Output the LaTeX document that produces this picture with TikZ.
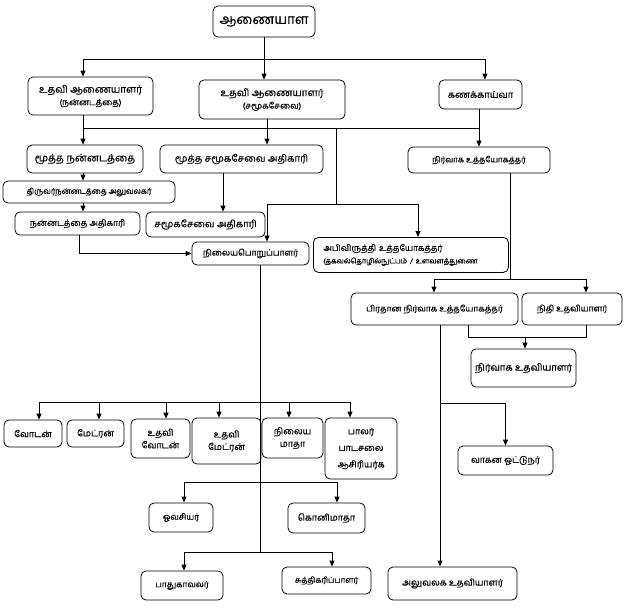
\documentclass[tikz,border=0pt]{standalone}
\usepackage{fontspec}
\setmainfont[Script=Tamil, FakeBold=0.4]{Hind Madurai}
\usetikzlibrary{arrows.meta}
\tikzset{
 bx/.style={draw=black, line width=0.8pt, rounded corners=5pt, fill=white, inner sep=0pt, align=center, font=\fontsize{9}{12.5}\selectfont},
 ln/.style={line width=0.8pt, draw=black},
 arr/.style={ln, -{Triangle[length=6pt,width=5pt]}},
 fs/.style={font=\fontsize{#1}{12.5}\selectfont},
}
\newcommand\bx[7][]{\node[bx, #1, minimum width={(#5-#3)*1pt}, minimum height={(#6-#4)*1pt}] (#2) at ({(#3+#5)/2},{(#4+#6)/2}) {#7};}
\newcommand\sm[1]{{\fontsize{8.5}{10}\selectfont #1}}
\begin{document}
\begin{tikzpicture}[x=1pt,y=-1pt]
\useasboundingbox (0,0) rectangle (625,608);
% boxes
\bx[fs=13.5]{top}{213}{6}{315}{37}{ஆணையாள}
\bx[fs=10]{ua1}{28}{77}{153}{115}{உதவி ஆணையாளர்\\\sm{(நன்னடத்தை)}}
\bx[fs=10]{ua2}{199}{80}{345}{119}{உதவி ஆணையாளர்\\\sm{(சமூகசேவை)}}
\bx[fs=9.3]{acc}{439}{80}{522}{109}{கணக்காய்வா}
\bx[fs=10.3]{mn}{27}{145}{143}{173}{மூத்த நன்னடத்தை}
\bx[fs=9.7]{ms}{160}{145}{323}{173}{மூத்த சமூகசேவை அதிகாரி}
\bx[fs=8]{na}{408}{147}{550}{173}{நிர்வாக உத்தயோகத்தர்}
\bx[fs=7.7]{tn}{3}{181}{175}{203}{திருவர்நன்னடத்தை அலுவலகர்}
\bx[fs=8.6]{nno}{15}{212}{140}{235}{நன்னடத்தை அதிகாரி}
\bx[fs=9.6]{sso}{146}{212}{265}{237}{சமூகசேவை அதிகாரி}
\bx[fs=8.5]{nil}{192}{242}{309}{265}{நிலையபொறுப்பாளர்}
\node[bx, fs=8.5, anchor=north west, minimum height=35pt, text width=175pt, inner xsep=10pt, align=left] (dev) at (313,237) {அபிவிருத்தி உத்தயோகத்தர்\\{\fontsize{7.2}{8.5}\selectfont (தகவல்தொழில்நுட்பம் / உளவளத்துணை}};
\bx[fs=8.5]{pna}{351}{293}{518}{325}{பிரதான நிர்வாக உத்தயோகத்தர்}
\bx[fs=8.5]{fin}{522}{293}{622}{325}{நிதி உதவியாளர்}
\bx[fs=9.5]{nau}{471}{349}{576}{387}{நிர்வாக உதவியாளர்}
\bx{wd}{4}{420}{62}{447}{வோடன்}
\bx{mt}{67}{420}{124}{447}{மேட்ரன்}
\bx{awd}{131}{419}{190}{458}{உதவி\\வோடன்}
\bx{amt}{192}{418}{261}{464}{உதவி\\மேட்ரன்}
\bx{nm}{262}{418}{323}{458}{நிலைய\\மாதா}
\bx{pp}{325}{418}{397}{479}{பாலர்\\[4pt]பாடசலை\\[4pt]ஆசிரியர்க}
\bx[fs=8.8]{drv}{458}{446}{553}{475}{வாகன ஓட்டுநர்}
\bx[fs=8.4]{ov}{149}{503}{213}{532}{ஓவசியர்}
\bx{km}{288}{503}{365}{533}{கொனிமாதா}
\bx[fs=8.4]{pk}{141}{571}{223}{600}{பாதுகாவலர்}
\bx[fs=8]{sut}{282}{567}{371}{594}{சுத்திகரிப்பாளர்}
\bx{alu}{388}{567}{517}{600}{அலுவலக உதவியாளர்}
% junction coordinates
\coordinate (h1L) at (83,59);
\coordinate (h1R) at (485,59);
\coordinate (h2L) at (83,128);
\coordinate (h2M) at (267,128);
\coordinate (h2D) at (336,128);
\coordinate (h2R) at (479,128);
\coordinate (h3L) at (267,204);
\coordinate (h3D) at (336,204);
\coordinate (h3R) at (418,204);
\coordinate (v1) at (223,0);
\coordinate (v2) at (79,0);
\coordinate (h4C) at (510,279);
\coordinate (h4L) at (434,279);
\coordinate (h4R) at (586,279);
\coordinate (h5L) at (468,337);
\coordinate (h5M) at (525,337);
\coordinate (h5R) at (586,337);
\coordinate (v3) at (440,0);
\coordinate (j6) at (440,403);
\coordinate (v4) at (260,552);
\coordinate (b1L) at (39,402);
\coordinate (b1R) at (350,402);
\coordinate (b2L) at (184,482);
\coordinate (b2R) at (337,482);
\coordinate (b3L) at (184,552);
\coordinate (b3R) at (332,552);
% connectors
\draw[arr] (top.south) -- (top.south |- ua2.north);
\draw[ln] (h1L) -- (h1R);
\draw[arr] (h1L) -- (h1L |- ua1.north);
\draw[arr] (h1R) -- (h1R |- acc.north);
\draw[ln] (h2L) -- (h2R);
\draw[arr] (h2L |- ua1.south) -- (h2L |- mn.north);
\draw[arr] (h2M |- ua2.south) -- (h2M |- ms.north);
\draw[arr] (h2R |- acc.south) -- (h2R |- na.north);
\draw[ln] (h2D) -- (h3D);
\draw[ln] (h3L) -- (h3R);
\draw[arr] (h3L) -- (h3L |- nil.north);
\draw[arr] (h3R) -- (h3R |- dev.north);
\draw[arr] (h2L |- mn.south) -- (h2L |- tn.north);
\draw[arr] (h2L |- tn.south) -- (h2L |- nno.north);
\draw[arr] (v1 |- ms.south) -- (v1 |- sso.north);
\draw[arr] (v2 |- nno.south) |- (nil.west);
\draw[ln] (h4C |- na.south) -- (h4C);
\draw[ln] (h4L) -- (h4R);
\draw[arr] (h4L) -- (h4L |- pna.north);
\draw[arr] (h4R) -- (h4R |- fin.north);
\draw[ln] (h5L |- pna.south) -- (h5L) -- (h5R) -- (h5R |- fin.south);
\draw[arr] (h5M) -- (h5M |- nau.north);
\draw[arr] (v3 |- pna.south) -- (v3 |- alu.north);
\draw[arr] (j6) -| (drv.north);
\draw[ln] (v4 |- nil.south) -- (v4);
\draw[ln] (b1L) -- (b1R);
\foreach \n/\x in {wd/39, mt/99, awd/166, amt/219, nm/289, pp/350}{
  \coordinate (tmp) at (\x,402);
  \draw[arr] (tmp) -- (tmp |- \n.north);
}
\draw[ln] (b2L) -- (b2R);
\draw[arr] (b2L) -- (b2L |- ov.north);
\draw[arr] (b2R) -- (b2R |- km.north);
\draw[ln] (b3L) -- (b3R);
\draw[arr] (b3L) -- (b3L |- pk.north);
\draw[arr] (b3R) -- (b3R |- sut.north);
\end{tikzpicture}
\end{document}
